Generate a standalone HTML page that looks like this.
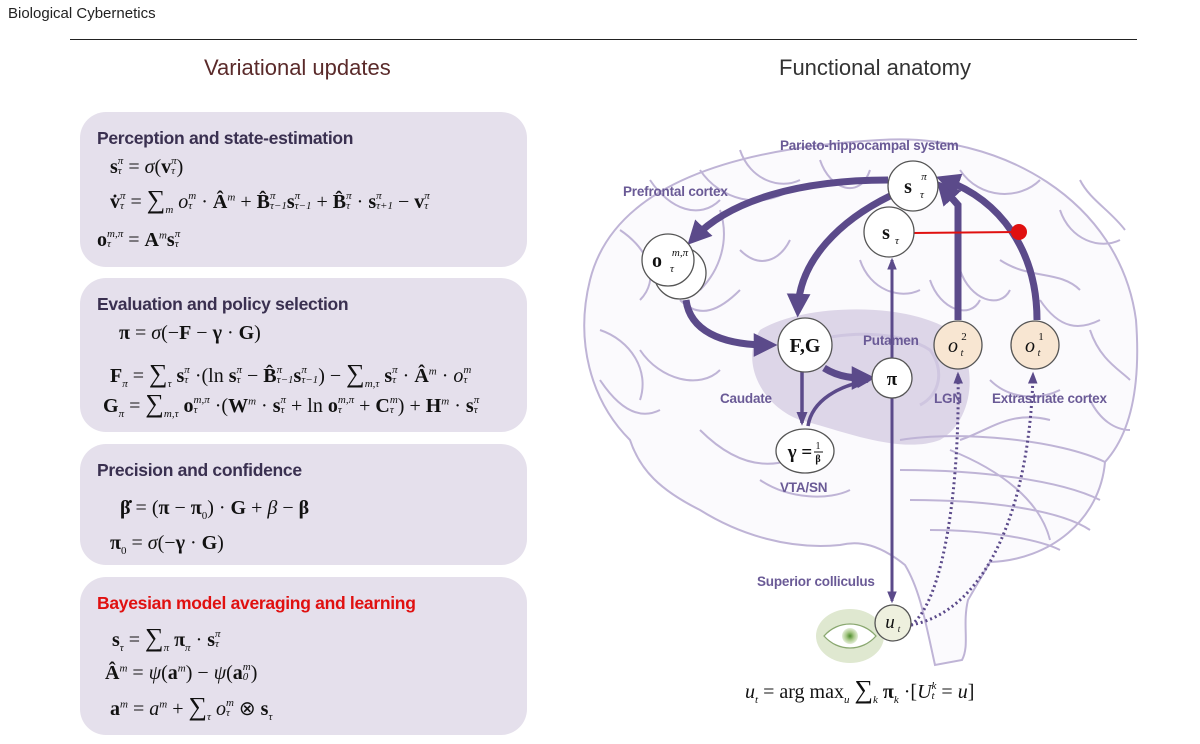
<!DOCTYPE html>
<html><head><meta charset="utf-8"><style>
body{margin:0;width:1200px;height:744px;background:#fff;position:relative;overflow:hidden;font-family:"Liberation Sans",sans-serif}
.abs{position:absolute}
.panel{position:absolute;left:80px;width:447px;background:#e5e0ec;border-radius:26px}
.ph{position:absolute;left:17px;font-size:17.5px;font-weight:bold;color:#3a3050;letter-spacing:-0.3px}
.eq{position:absolute;font-family:"Liberation Serif",serif;font-size:20px;color:#111;white-space:nowrap;line-height:24px}
.eq sub,.eq sup{line-height:0}
.sg{font-size:26px;line-height:0}
.ss{display:inline-flex;flex-direction:column;vertical-align:middle;font-size:11px;line-height:10px;font-style:italic;font-weight:normal;margin-top:-4px}
b{font-weight:bold}
i{font-style:italic}
.lab{position:absolute;font-size:13.5px;font-weight:bold;color:#6a5a96;white-space:nowrap;letter-spacing:-0.2px}
</style></head><body>
<div class="abs" style="left:8px;top:5px;font-size:15px;color:#222">Biological Cybernetics</div>
<div class="abs" style="left:70px;top:39px;width:1067px;height:1px;background:#222"></div>
<div class="abs" style="left:204px;top:55px;font-size:22px;color:#5a2a2a">Variational updates</div>
<div class="abs" style="left:779px;top:55px;font-size:22px;color:#333">Functional anatomy</div>

<div class="panel" style="top:112px;height:155px">
<div class="ph" style="top:16px">Perception and state-estimation</div>
<div class="eq" style="left:30px;top:43px"><b>s</b><span class="ss"><span>π</span><span>τ</span></span> = <i>σ</i>(<b>v</b><span class="ss"><span>π</span><span>τ</span></span>)</div>
<div class="eq" style="left:30px;top:78px"><b>v̇</b><span class="ss"><span>π</span><span>τ</span></span> = <span class="sg">∑</span><sub style="font-size:11px"><i>m</i></sub> <i>o</i><span class="ss"><span>m</span><span>τ</span></span> · <b>Â</b><sup style="font-size:11px"><i>m</i></sup> + <b>B̂</b><span class="ss"><span>π</span><span>τ−1</span></span><b>s</b><span class="ss"><span>π</span><span>τ−1</span></span> + <b>B̂</b><span class="ss"><span>π</span><span>τ</span></span> · <b>s</b><span class="ss"><span>π</span><span>τ+1</span></span> − <b>v</b><span class="ss"><span>π</span><span>τ</span></span></div>
<div class="eq" style="left:17px;top:116px"><b>o</b><span class="ss"><span>m,π</span><span>τ</span></span> = <b>A</b><sup style="font-size:11px"><i>m</i></sup><b>s</b><span class="ss"><span>π</span><span>τ</span></span></div>
</div>

<div class="panel" style="top:278px;height:154px">
<div class="ph" style="top:16px">Evaluation and policy selection</div>
<div class="eq" style="left:39px;top:43px"><b>π</b> = <i>σ</i>(−<b>F</b> − <b>γ</b> · <b>G</b>)</div>
<div class="eq" style="left:30px;top:86px"><b>F</b><sub style="font-size:11px"><i>π</i></sub> = <span class="sg">∑</span><sub style="font-size:11px"><i>τ</i></sub> <b>s</b><span class="ss"><span>π</span><span>τ</span></span> ·(ln <b>s</b><span class="ss"><span>π</span><span>τ</span></span> − <b>B̂</b><span class="ss"><span>π</span><span>τ−1</span></span><b>s</b><span class="ss"><span>π</span><span>τ−1</span></span>) − <span class="sg">∑</span><sub style="font-size:11px"><i>m,τ</i></sub> <b>s</b><span class="ss"><span>π</span><span>τ</span></span> · <b>Â</b><sup style="font-size:11px"><i>m</i></sup> · <i>o</i><span class="ss"><span>m</span><span>τ</span></span></div>
<div class="eq" style="left:23px;top:116px"><b>G</b><sub style="font-size:11px"><i>π</i></sub> = <span class="sg">∑</span><sub style="font-size:11px"><i>m,τ</i></sub> <b>o</b><span class="ss"><span>m,π</span><span>τ</span></span> ·(<b>W</b><sup style="font-size:11px"><i>m</i></sup> · <b>s</b><span class="ss"><span>π</span><span>τ</span></span> + ln <b>o</b><span class="ss"><span>m,π</span><span>τ</span></span> + <b>C</b><span class="ss"><span>m</span><span>τ</span></span>) + <b>H</b><sup style="font-size:11px"><i>m</i></sup> · <b>s</b><span class="ss"><span>π</span><span>τ</span></span></div>
</div>

<div class="panel" style="top:444px;height:121px">
<div class="ph" style="top:16px">Precision and confidence</div>
<div class="eq" style="left:40px;top:52px"><b>β̇</b> = (<b>π</b> − <b>π</b><sub style="font-size:11px">0</sub>) · <b>G</b> + <i>β</i> − <b>β</b></div>
<div class="eq" style="left:30px;top:87px"><b>π</b><sub style="font-size:11px">0</sub> = <i>σ</i>(−<b>γ</b> · <b>G</b>)</div>
</div>

<div class="panel" style="top:577px;height:158px">
<div class="ph" style="top:16px;color:#e01010">Bayesian model averaging and learning</div>
<div class="eq" style="left:32px;top:51px"><b>s</b><sub style="font-size:11px"><i>τ</i></sub> = <span class="sg">∑</span><sub style="font-size:11px"><i>π</i></sub> <b>π</b><sub style="font-size:11px"><i>π</i></sub> · <b>s</b><span class="ss"><span>π</span><span>τ</span></span></div>
<div class="eq" style="left:25px;top:84px"><b>Â</b><sup style="font-size:11px"><i>m</i></sup> = <i>ψ</i>(<b>a</b><sup style="font-size:11px"><i>m</i></sup>) − <i>ψ</i>(<b>a</b><span class="ss"><span>m</span><span>0</span></span>)</div>
<div class="eq" style="left:30px;top:120px"><b>a</b><sup style="font-size:11px"><i>m</i></sup> = <i>a</i><sup style="font-size:11px"><i>m</i></sup> + <span class="sg">∑</span><sub style="font-size:11px"><i>τ</i></sub> <i>o</i><span class="ss"><span>m</span><span>τ</span></span> ⊗ <b>s</b><sub style="font-size:11px"><i>τ</i></sub></div>
</div>

<svg class="abs" style="left:0;top:0" width="1200" height="744">
<defs>
<marker id="ah" viewBox="0 0 10 10" refX="6" refY="5" markerWidth="3.4" markerHeight="3.4" orient="auto"><path d="M0,0 L10,5 L0,10 z" fill="#5b4a8a"/></marker>
<marker id="ah3" viewBox="0 0 10 10" refX="8" refY="5" markerWidth="4" markerHeight="4" orient="auto"><path d="M0,1 L10,5 L0,9 z" fill="#5b4a8a"/></marker>
<radialGradient id="eye" cx="50%" cy="50%" r="50%"><stop offset="0" stop-color="#4a8a2a"/><stop offset="0.5" stop-color="#a8c888"/><stop offset="1" stop-color="#e4eed8"/></radialGradient>
</defs>
<g fill="none" stroke="#bfb4d6" stroke-width="2">
<path d="M880,140 C1000,132 1120,200 1136,320 C1142,400 1125,440 1105,462 C1100,520 1050,560 990,562 L968,600 C962,625 970,645 962,660 L935,665 C925,620 920,590 905,565 C880,545 860,540 840,545 C790,550 740,535 700,510 C660,490 640,470 630,440 C590,400 575,340 590,280 C610,200 700,150 880,140 Z" fill="#fbfafd"/>
<path d="M760,330 C800,305 900,300 950,330 C980,360 975,420 940,440 C900,455 840,430 800,420 C760,405 740,360 760,330 Z" fill="#ddd6e8" stroke="none"/>
<path d="M800,345 C840,330 900,330 930,350 C945,370 940,395 920,405" stroke="#cfc6e0" stroke-width="3"/>
<path d="M900,440 C960,430 1060,440 1105,462 M900,470 C980,470 1060,480 1100,500 M910,500 C990,500 1060,510 1090,530 M930,530 C990,530 1040,540 1060,550 M950,450 C1000,470 1040,500 1050,540"/>
<path d="M620,230 C650,250 660,280 640,300 M700,170 C720,200 760,210 790,190 M820,160 C830,190 860,200 870,170 M960,170 C980,200 1020,200 1040,180 M1060,210 C1070,240 1100,250 1120,240 M600,330 C630,340 650,370 640,400 M1000,260 C1030,280 1060,270 1080,290 M1090,330 C1100,360 1120,370 1130,380 M640,350 C660,380 700,390 720,370 M700,430 C730,460 760,470 790,460 M960,440 C990,430 1010,410 1050,420 M740,250 C760,270 780,260 790,240 M1040,300 C1060,330 1080,330 1100,320 M860,260 C870,290 900,300 920,290 M960,270 C970,300 1000,310 1010,290 M650,180 C670,210 700,220 720,200 M740,150 C750,180 780,190 800,180 M1080,180 C1090,200 1110,210 1125,230 M600,380 C620,410 640,420 660,410 M680,300 C700,320 720,310 740,290 M760,480 C790,500 830,500 850,490 M990,380 C1010,400 1040,400 1060,390 M1090,400 C1100,420 1115,430 1130,430 M720,210 C730,240 720,270 700,290 M930,280 C940,310 970,320 980,300"/>
</g>
<g fill="none" stroke="#5b4a8a" stroke-linecap="butt">
<path d="M888,180 C800,180 730,200 694,238" stroke-width="7" marker-end="url(#ah)"/>
<path d="M892,195 C840,220 800,260 798,308" stroke-width="7" marker-end="url(#ah)"/>
<path d="M686,300 C690,330 720,345 768,345" stroke-width="7" marker-end="url(#ah)"/>
<path d="M824,368 C840,378 855,378 866,378" stroke-width="7" marker-end="url(#ah)"/>
<path d="M958,320 L958,205 L943,188" stroke-width="7" marker-end="url(#ah)"/>
<path d="M1037,320 C1037,250 1000,200 945,180" stroke-width="7" marker-end="url(#ah)"/>
<path d="M802,372 L802,423" stroke-width="3.5" marker-end="url(#ah3)"/>
<path d="M808,426 C812,400 840,385 868,381" stroke-width="3.5" marker-end="url(#ah3)"/>
<path d="M892,600 L892,260" stroke-width="3" marker-end="url(#ah3)"/>
<path d="M892,398 L892,601" stroke-width="3" marker-end="url(#ah3)"/>
<path d="M911,625 C945,600 960,480 958,374" stroke-width="3" stroke-dasharray="2,3" marker-end="url(#ah3)"/>
<path d="M911,625 C990,610 1030,500 1033,374" stroke-width="3" stroke-dasharray="2,3" marker-end="url(#ah3)"/>
</g>
<line x1="912" y1="233" x2="1019" y2="232" stroke="#e01010" stroke-width="2"/>
<circle cx="1019" cy="232" r="8" fill="#e01010"/>
<g stroke="#555" stroke-width="1.3">
<circle cx="680" cy="273" r="26" fill="#fff"/>
<circle cx="668" cy="260" r="26" fill="#fff"/>
<circle cx="913" cy="186" r="25" fill="#fff"/>
<circle cx="889" cy="232" r="25" fill="#fff"/>
<circle cx="805" cy="345" r="27" fill="#fff"/>
<circle cx="892" cy="378" r="20" fill="#fff"/>
<circle cx="958" cy="345" r="24" fill="#f8e6d2"/>
<circle cx="1035" cy="345" r="24" fill="#f8e6d2"/>
<ellipse cx="805" cy="451" rx="29" ry="22" fill="#fff"/>
<ellipse cx="850" cy="636" rx="34" ry="27" fill="#dfe8d0" stroke="none"/>
<path d="M824,636 C838,620 862,620 876,636 C862,652 838,652 824,636Z" fill="#fff" stroke="#8aa870"/>
<circle cx="850" cy="636" r="8" fill="url(#eye)" stroke="none"/>
<circle cx="893" cy="623" r="18" fill="#eef0de"/>
</g>
<g font-family="Liberation Serif,serif" fill="#111" text-anchor="middle">
<text x="908" y="193" font-size="20" font-weight="bold">s</text><text x="924" y="180" font-size="11" font-style="italic">π</text><text x="922" y="198" font-size="11" font-style="italic">τ</text>
<text x="886" y="239" font-size="20" font-weight="bold">s</text><text x="897" y="244" font-size="11" font-style="italic">τ</text>
<text x="657" y="267" font-size="20" font-weight="bold">o</text><text x="680" y="256" font-size="11" font-style="italic">m,π</text><text x="672" y="272" font-size="11" font-style="italic">τ</text>
<text x="805" y="352" font-size="20" font-weight="bold">F,G</text>
<text x="892" y="385" font-size="19" font-weight="bold">π</text>
<text x="953" y="352" font-size="20" font-style="italic">o</text><text x="964" y="340" font-size="11">2</text><text x="962" y="356" font-size="10" font-style="italic">t</text>
<text x="1030" y="352" font-size="20" font-style="italic">o</text><text x="1041" y="340" font-size="11">1</text><text x="1039" y="356" font-size="10" font-style="italic">t</text>
<text x="800" y="458" font-size="19" font-weight="bold">γ =</text><text x="818" y="449" font-size="10">1</text><line x1="814" y1="452" x2="823" y2="452" stroke="#111"/><text x="818" y="462" font-size="10" font-weight="bold">β</text>
<text x="890" y="628" font-size="19" font-style="italic">u</text><text x="899" y="632" font-size="9" font-style="italic">t</text>
</g>
</svg>
<div class="lab" style="left:780px;top:138px">Parieto-hippocampal system</div>
<div class="lab" style="left:623px;top:184px">Prefrontal cortex</div>
<div class="lab" style="left:863px;top:333px">Putamen</div>
<div class="lab" style="left:720px;top:391px">Caudate</div>
<div class="lab" style="left:934px;top:391px">LGN</div>
<div class="lab" style="left:992px;top:391px">Extrastriate cortex</div>
<div class="lab" style="left:780px;top:480px">VTA/SN</div>
<div class="lab" style="left:757px;top:574px">Superior colliculus</div>
<div class="eq" style="left:745px;top:680px"><i>u</i><sub style="font-size:11px"><i>t</i></sub> = arg max<sub style="font-size:11px"><i>u</i></sub> <span class="sg">∑</span><sub style="font-size:11px"><i>k</i></sub> <b>π</b><sub style="font-size:11px"><i>k</i></sub> ·[<i>U</i><span class="ss"><span>k</span><span>t</span></span> = <i>u</i>]</div>
</body></html>
